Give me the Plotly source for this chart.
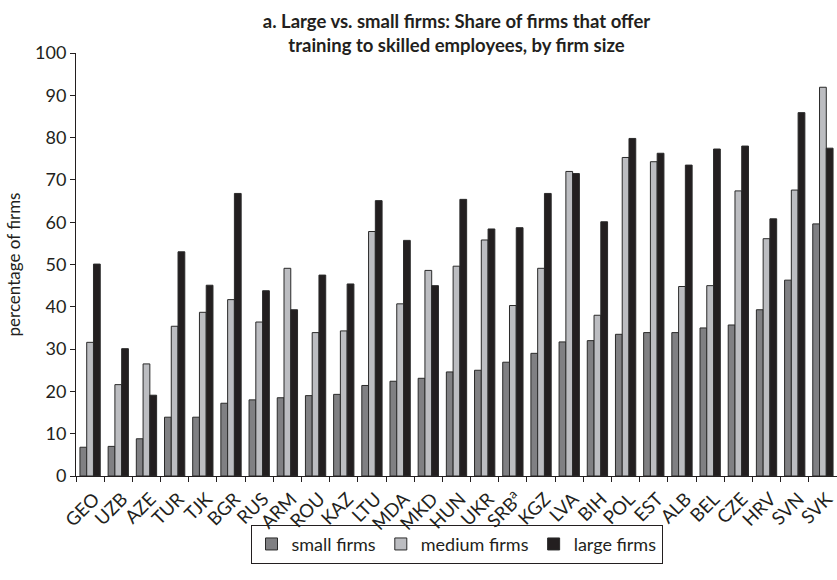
import plotly.graph_objects as go

countries = ["GEO", "UZB", "AZE", "TUR", "TJK", "BGR", "RUS", "ARM", "ROU", "KAZ",
             "LTU", "MDA", "MKD", "HUN", "UKR", "SRB<sup>a</sup>", "KGZ", "LVA", "BIH",
             "POL", "EST", "ALB", "BEL", "CZE", "HRV", "SVN", "SVK"]

small_firms = [6.8, 7.0, 8.8, 13.9, 13.9, 17.2, 18.0, 18.5, 19.0, 19.3,
               21.4, 22.4, 23.1, 24.6, 25.0, 26.9, 29.0, 31.7, 32.0,
               33.5, 33.9, 33.9, 35.0, 35.7, 39.3, 46.3, 59.6]
medium_firms = [31.6, 21.6, 26.5, 35.4, 38.7, 41.7, 36.4, 49.1, 33.9, 34.3,
                57.8, 40.7, 48.6, 49.6, 55.8, 40.3, 49.1, 72.0, 38.0,
                75.3, 74.3, 44.8, 45.0, 67.4, 56.1, 67.6, 91.9]
large_firms = [50.1, 30.1, 19.1, 53.0, 45.1, 66.8, 43.8, 39.3, 47.5, 45.4,
               65.1, 55.7, 45.0, 65.4, 58.4, 58.7, 66.8, 71.5, 60.1,
               79.8, 76.3, 73.5, 77.3, 78.0, 60.8, 85.9, 77.5]

series = [
    ("small firms", small_firms, "#808083"),
    ("medium firms", medium_firms, "#bcbdc1"),
    ("large firms", large_firms, "#231f20"),
]

FONT = "Lato, Roboto, sans-serif"

fig = go.Figure()
for name, vals, color in series:
    fig.add_trace(go.Bar(
        x=countries, y=vals, name=name,
        marker=dict(color=color, line=dict(color="#2a2a2a", width=1)),
    ))

fig.update_layout(
    width=837, height=580,
    margin=dict(l=76, r=0, t=53, b=104),
    paper_bgcolor="white", plot_bgcolor="white",
    barmode="group", bargap=0.28, bargroupgap=0,
    font=dict(family=FONT, size=17, color="#231f20"),
    title=dict(
        text="<b>a. Large vs. small firms: Share of firms that offer<br>training to skilled employees, by firm size</b>",
        x=0.5, xref="paper", xanchor="center",
        y=0.952, yref="container", yanchor="top",
        font=dict(family=FONT, size=18.5, color="#231f20"),
    ),
    legend=dict(
        orientation="h", x=0.5, xanchor="center", xref="paper",
        y=0.028, yref="container", yanchor="bottom",
        bordercolor="#231f20", borderwidth=1, bgcolor="rgba(255,255,255,0)",
        font=dict(family=FONT, size=18, color="#231f20"),
        itemwidth=30, tracegroupgap=0, valign="middle",
    ),
    xaxis=dict(
        type="category", tickangle=-45, automargin=False,
        showline=True, linecolor="#231f20", linewidth=1,
        ticks="outside", tickson="boundaries", ticklen=5, tickcolor="#231f20",
        tickfont=dict(family=FONT, size=18.5),
        ticklabelstandoff=4, ticklabelshift=4,
        showgrid=False,
    ),
    yaxis=dict(
        range=[0, 100], dtick=10, automargin=False,
        showline=True, linecolor="#231f20", linewidth=1,
        ticks="outside", ticklen=5, tickcolor="#231f20",
        tickfont=dict(family=FONT, size=18),
        showgrid=False, zeroline=False,
        title=dict(text="percentage of firms", font=dict(family=FONT, size=17), standoff=10),
    ),
)

fig.write_html("out.html")
